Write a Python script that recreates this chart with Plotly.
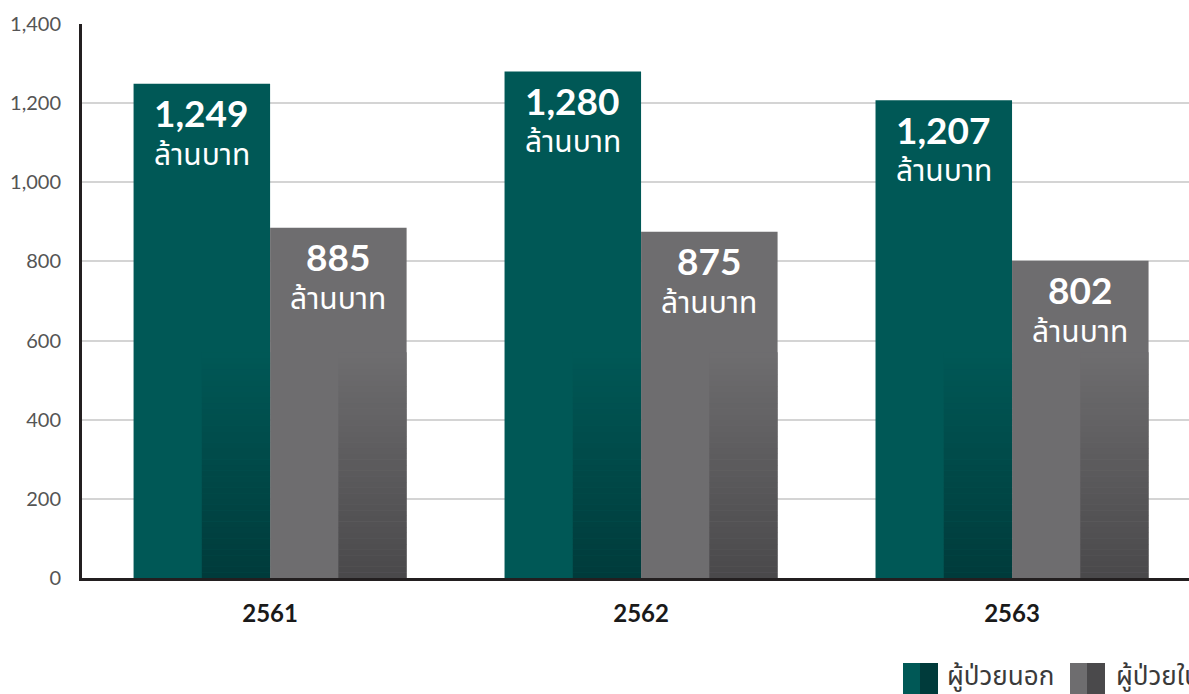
import plotly.graph_objects as go

years = ["2561", "2562", "2563"]
outpatient = [1249, 1280, 1207]   # ผู้ป่วยนอก
inpatient = [885, 875, 802]       # ผู้ป่วยใน
value_labels_out = ["1,249", "1,280", "1,207"]
value_labels_in = ["885", "875", "802"]
unit_label = "ล้านบาท"
legend_names = ["ผู้ป่วยนอก", "ผู้ป่วยใน"]
y_ticks = [0, 200, 400, 600, 800, 1000, 1200, 1400]
y_tick_text = ["0", "200", "400", "600", "800", "1,000", "1,200", "1,400"]

TEAL = "#005856"
TEAL_DARK = "#003b3b"
GRAY = "#6e6d6f"
GRAY_DARK = "#4a494b"
BW = 0.368          # bar width (category units)
GRAD_TOP = 570      # where the shading starts
NSEG = 40

W, H = 1189, 694
ML, MR, MT, MB = 82, 0, 24, 116


def mix(c1, c2, t):
    a = [int(c1[i:i + 2], 16) for i in (1, 3, 5)]
    b = [int(c2[i:i + 2], 16) for i in (1, 3, 5)]
    return "#%02x%02x%02x" % tuple(round(a[k] + (b[k] - a[k]) * t) for k in range(3))


def gradient_trace(values, top_color, bottom_color, offset):
    xs, bases, heights, colors = [], [], [], []
    step = GRAD_TOP / NSEG
    for cat, v in zip(years, values):
        for s in range(NSEG):
            lo = s * step
            hi = min((s + 1) * step + 0.5, v)
            if hi <= lo:
                continue
            xs.append(cat)
            bases.append(lo)
            heights.append(hi - lo)
            t = 1 - (s + 0.5) / NSEG
            colors.append(mix(top_color, bottom_color, t))
    return go.Bar(x=xs, y=heights, base=bases, offset=offset, width=BW / 2,
                  marker=dict(color=colors, line=dict(width=0)),
                  showlegend=False, hoverinfo="skip")


fig = go.Figure()
fig.add_trace(go.Bar(x=years, y=outpatient, name=legend_names[0], offset=-BW, width=BW,
                     marker=dict(color=TEAL, line=dict(width=0)), showlegend=False))
fig.add_trace(go.Bar(x=years, y=inpatient, name=legend_names[1], offset=0, width=BW,
                     marker=dict(color=GRAY, line=dict(width=0)), showlegend=False))
fig.add_trace(gradient_trace(outpatient, TEAL, TEAL_DARK, -BW / 2))
fig.add_trace(gradient_trace(inpatient, GRAY, GRAY_DARK, BW / 2))

NUM_FONT = "Lato, 'Open Sans', sans-serif"
THAI_FONT = "'Noto Sans Thai', 'Noto Sans', sans-serif"

annotations = []
for i, cat in enumerate(years):
    for vals, labels, off in ((outpatient, value_labels_out, -BW / 2),
                              (inpatient, value_labels_in, BW / 2)):
        annotations.append(dict(x=i + off, y=vals[i], xref="x", yref="y",
                                text="<b>%s</b>" % labels[i], showarrow=False,
                                yanchor="middle", yshift=-29,
                                font=dict(family=NUM_FONT, size=37, color="white")))
        annotations.append(dict(x=i + off, y=vals[i], xref="x", yref="y",
                                text=unit_label, showarrow=False,
                                yanchor="middle", yshift=-72,
                                font=dict(family=THAI_FONT, size=30, color="white")))

# manual legend (two-tone swatches)
pw, ph = W - ML - MR, H - MT - MB


def px(x):
    return (x - ML) / pw


def py(y):
    return (H - MB - y) / ph


shapes = []
legend_items = [(903, TEAL, TEAL_DARK, legend_names[0], 945),
                (1070, GRAY, GRAY_DARK, legend_names[1], 1114)]
for x0, c1, c2, name, tx in legend_items:
    shapes.append(dict(type="rect", xref="paper", yref="paper", x0=px(x0), x1=px(x0 + 18),
                       y0=py(694), y1=py(663), fillcolor=c1, line=dict(width=0), layer="above"))
    shapes.append(dict(type="rect", xref="paper", yref="paper", x0=px(x0 + 17), x1=px(x0 + 35),
                       y0=py(694), y1=py(663), fillcolor=c2, line=dict(width=0), layer="above"))
    annotations.append(dict(x=px(tx), y=py(677), xref="paper", yref="paper", text=name,
                            showarrow=False, xanchor="left", yanchor="middle",
                            font=dict(family=THAI_FONT, size=26, color="#3a3a3a")))

fig.update_layout(
    width=W, height=H,
    margin=dict(l=ML, r=MR, t=MT, b=MB, pad=0),
    plot_bgcolor="white", paper_bgcolor="white",
    barmode="overlay", showlegend=False,
    annotations=annotations, shapes=shapes,
    xaxis=dict(type="category", range=[-0.507, 2.477], showgrid=False,
               showline=True, linecolor="#231f20", linewidth=3,
               ticks="outside", ticklen=12, tickcolor="rgba(0,0,0,0)",
               tickfont=dict(family=NUM_FONT, size=24, color="#1a1a1a", weight="bold")),
    yaxis=dict(range=[0, 1400], tickvals=y_ticks, ticktext=y_tick_text,
               showgrid=True, gridcolor="#d4d4d4", gridwidth=2,
               showline=True, linecolor="#231f20", linewidth=3,
               ticks="outside", ticklen=14, tickcolor="rgba(0,0,0,0)",
               zeroline=False,
               tickfont=dict(family=NUM_FONT, size=20, color="#555555")),
)

fig.write_html("out.html", config={"displayModeBar": False},
               post_script="document.body.style.margin='0';")
